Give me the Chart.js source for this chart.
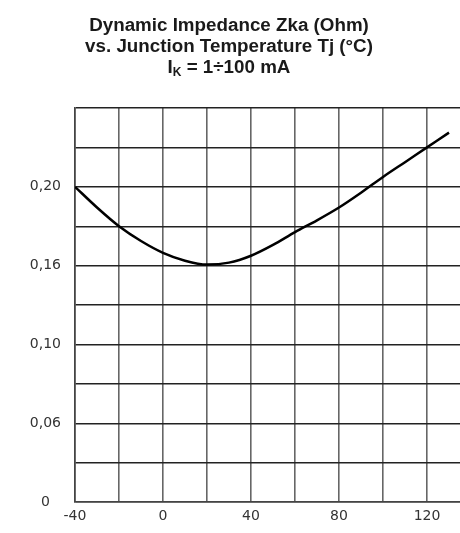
<!DOCTYPE html>
<html>
<head>
<meta charset="utf-8">
<script src="https://cdn.jsdelivr.net/npm/chart.js@4"></script>
<style>
  html, body { margin: 0; padding: 0; background: #fff; }
  #wrap { width: 460px; height: 533px; }
</style>
</head>
<body>
<div id="wrap"><canvas id="zkaChart"></canvas></div>
<script>
// junction temperature (°C) and dynamic impedance (Ohm)
const tempC = [-40, -30, -20, -10, 0, 10, 20, 30, 40, 50, 60, 70, 80, 90, 100, 110, 120, 130];
const zka = [0.200, 0.1895, 0.180, 0.1725, 0.1665, 0.1625, 0.1605, 0.1615, 0.165, 0.1705, 0.177, 0.183, 0.1895, 0.197, 0.205, 0.2125, 0.220, 0.2275];

// grid lines and the labels printed on them (labels as printed in the datasheet)
const xGrid = [-40, -20, 0, 20, 40, 60, 80, 100, 120];
const xTickLabels = ["-40", "", "0", "", "40", "", "80", "", "120"];
const yGrid = [0.04, 0.06, 0.08, 0.10, 0.12, 0.14, 0.16, 0.18, 0.20, 0.22, 0.24];
const yTickLabels = ["0", "", "0,06", "", "0,10", "", "0,16", "", "0,20", "", ""];

// title, third line has a subscript K after the I
const titleLines = ["Dynamic Impedance Zka (Ohm)", "vs. Junction Temperature Tj (°C)"];
const titleLast = ["I", "K", " = 1÷100 mA"];

const tickFont = { family: "DejaVu Sans", size: 14 };

// draws the three-line title (Chart.js title can't do subscripts)
const titlePlugin = {
  id: "subTitle",
  afterDraw(chart) {
    const ctx = chart.ctx;
    const cx = chart.width / 2;
    const big = "bold 18.8px 'Liberation Sans', Arial, sans-serif";
    const small = "bold 12px 'Liberation Sans', Arial, sans-serif";
    ctx.save();
    ctx.fillStyle = "#1a1a1a";
    ctx.textBaseline = "alphabetic";
    ctx.textAlign = "center";
    ctx.font = big;
    titleLines.forEach((t, i) => ctx.fillText(t, cx - 1, 31 + i * 21));
    ctx.textAlign = "left";
    const w0 = ctx.measureText(titleLast[0]).width;
    const w2 = ctx.measureText(titleLast[2]).width;
    ctx.font = small;
    const w1 = ctx.measureText(titleLast[1]).width;
    let x = cx - 1 - (w0 + w1 + w2) / 2;
    const y = 73;
    ctx.font = big;
    ctx.fillText(titleLast[0], x, y);
    x += w0;
    ctx.font = small;
    ctx.fillText(titleLast[1], x, y + 3);
    x += w1;
    ctx.font = big;
    ctx.fillText(titleLast[2], x, y);
    ctx.restore();
  },
};

new Chart(document.getElementById("zkaChart"), {
  type: "line",
  data: {
    datasets: [
      {
        data: tempC.map((t, i) => ({ x: t, y: zka[i] })),
        borderColor: "#000",
        borderWidth: 2.5,
        pointRadius: 0,
        tension: 0.4,
        cubicInterpolationMode: "monotone",
      },
    ],
  },
  options: {
    responsive: true,
    maintainAspectRatio: false,
    animation: false,
    layout: { padding: { top: 108, right: 0, bottom: 0, left: 0 } },
    plugins: {
      legend: { display: false },
      tooltip: { enabled: false },
      title: { display: false },
    },
    scales: {
      x: {
        type: "linear",
        min: -40,
        max: 135,
        afterBuildTicks: (s) => { s.ticks = xGrid.map((v) => ({ value: v })); },
        afterFit: (s) => { s.height = 31; },
        ticks: {
          autoSkip: false,
          maxRotation: 0,
          padding: 6,
          color: "#333",
          font: tickFont,
          callback: (v, i) => xTickLabels[i],
        },
        grid: { color: "#666", lineWidth: 1.6, drawTicks: false },
        border: { color: "#444", width: 1.6 },
      },
      y: {
        type: "linear",
        min: 0.04,
        max: 0.24,
        afterBuildTicks: (s) => { s.ticks = yGrid.map((v) => ({ value: v })); },
        afterFit: (s) => { s.width = 75; },
        ticks: {
          autoSkip: false,
          padding: 14,
          crossAlign: "center",
          color: "#333",
          font: tickFont,
          callback: (v, i) => yTickLabels[i],
        },
        grid: { color: "#222", lineWidth: 1.4, drawTicks: false },
        border: { color: "#444", width: 1.6 },
      },
    },
  },
  plugins: [titlePlugin],
});
</script>
</body>
</html>
